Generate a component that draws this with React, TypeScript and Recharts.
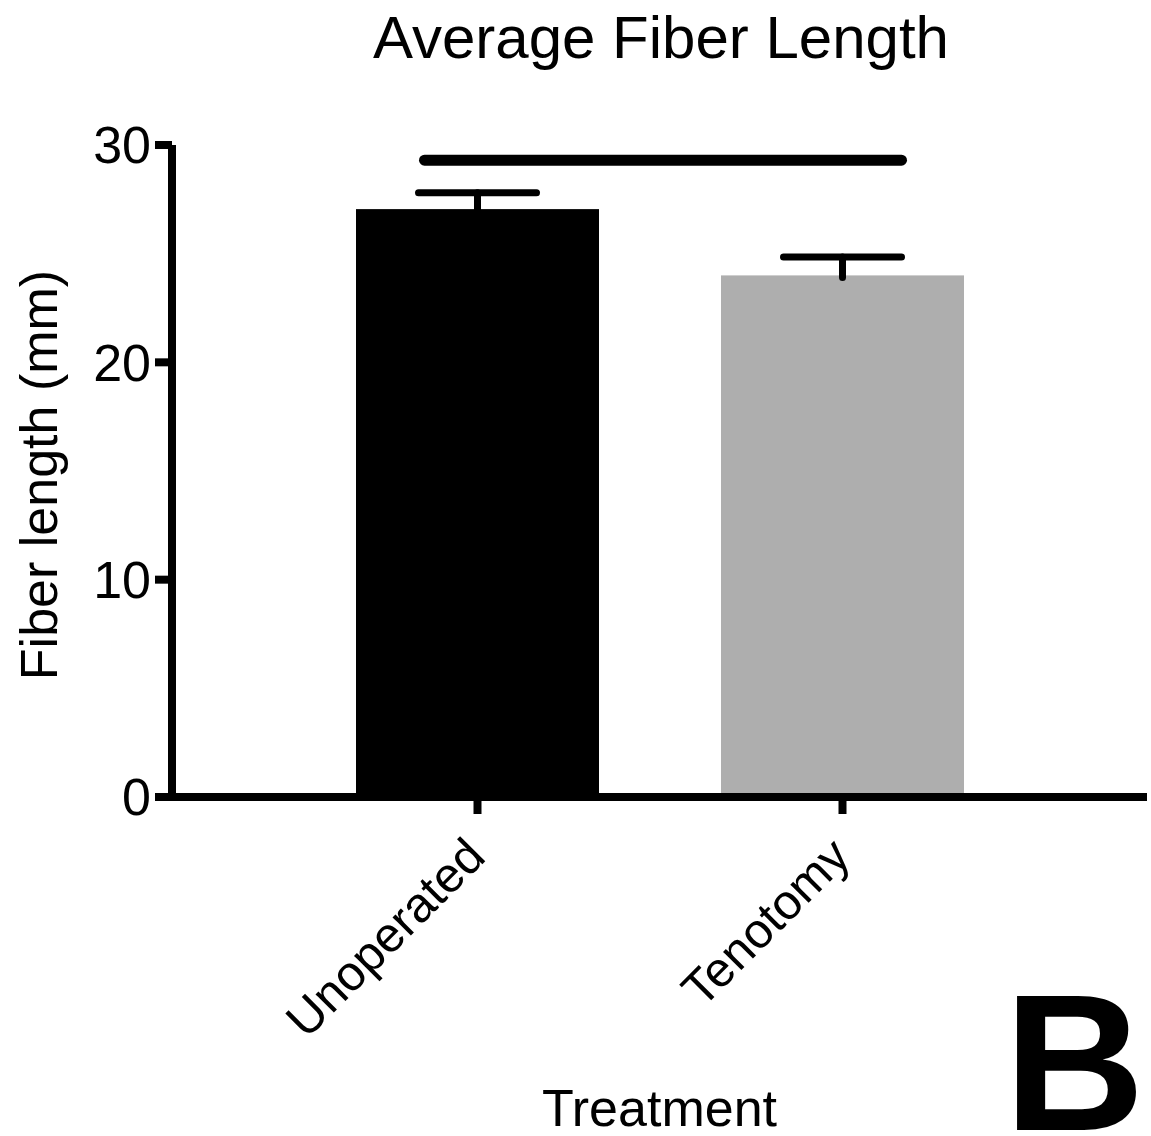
import React from "react";
import { BarChart, Bar, XAxis, YAxis, Cell, ReferenceLine } from "recharts";

const groups = ["Unoperated", "Tenotomy"];
const means = [27.05, 24.0];
const sems = [0.75, 0.85];
const barColors = ["#000000", "#aeaeae"];
const yTicks = [0, 10, 20, 30];
const sigLevel = 29.3;

const data = groups.map((g, i) => ({ name: g, mean: means[i], sem: sems[i] }));

const FONT = "'Liberation Sans', Arial, Helvetica, sans-serif";

// bar rect plus the upper half of the SEM whisker
const BarWithError = (props: any) => {
  const { x, y, width, height, fill, payload } = props;
  const pxPerUnit = height / payload.mean;
  const capY = y - payload.sem * pxPerUnit;
  const cx = x + width / 2;
  return (
    <g>
      <rect x={x} y={y} width={width} height={height} fill={fill} />
      <line x1={cx} y1={y + 2} x2={cx} y2={capY} stroke="#000" strokeWidth={7} strokeLinecap="round" />
      <line x1={cx - 59} y1={capY} x2={cx + 59} y2={capY} stroke="#000" strokeWidth={7} strokeLinecap="round" />
    </g>
  );
};

const XTick = (props: any) => {
  const { x, y, payload } = props;
  return (
    <g transform={`translate(${x + 10},${y + 43}) rotate(-45)`}>
      <text textAnchor="end" fontSize={49} fontFamily={FONT} fill="#000">
        {payload.value}
      </text>
    </g>
  );
};

const SigLine = (props: any) => {
  const { x1, y1, x2, y2 } = props;
  return (
    <line x1={x1 - 53} y1={y1} x2={x2 + 59} y2={y2} stroke="#000" strokeWidth={11} strokeLinecap="round" />
  );
};

export default function App() {
  return (
    <div style={{ position: "absolute", left: 0, top: 0, width: 1151, height: 1136, overflow: "hidden", background: "#fff" }}>
      <BarChart
        width={1151}
        height={1136}
        data={data}
        margin={{ top: 145, right: 4, left: 0, bottom: 0 }}
      >
        <XAxis
          dataKey="name"
          height={339}
          padding={{ left: 123, right: 122 }}
          axisLine={{ stroke: "#000", strokeWidth: 8 }}
          tickLine={{ stroke: "#000", strokeWidth: 8 }}
          tickSize={17}
          tickMargin={2}
          tick={<XTick />}
          interval={0}
          label={{
            value: "Treatment",
            position: "insideBottom",
            offset: 10,
            fontSize: 52,
            fontFamily: FONT,
            fill: "#000",
          }}
        />
        <YAxis
          width={172}
          domain={[0, 30]}
          ticks={yTicks}
          interval={0}
          axisLine={{ stroke: "#000", strokeWidth: 8 }}
          tickLine={{ stroke: "#000", strokeWidth: 8 }}
          tickSize={17}
          tickMargin={4}
          tick={{ fontSize: 52, fontFamily: FONT, fill: "#000" }}
        />
        <Bar dataKey="mean" barSize={243} shape={<BarWithError />} isAnimationActive={false}>
          {data.map((d, i) => (
            <Cell key={d.name} fill={barColors[i]} />
          ))}
        </Bar>
        <ReferenceLine
          segment={[
            { x: groups[0], y: sigLevel },
            { x: groups[1], y: sigLevel },
          ]}
          shape={<SigLine />}
        />
      </BarChart>
      <svg width={1151} height={1136} style={{ position: "absolute", left: 0, top: 0, pointerEvents: "none" }}>
        <text x={661} y={58} textAnchor="middle" fontSize={60} fontFamily={FONT} fill="#000">
          Average Fiber Length
        </text>
        <text
          transform="translate(57,475) rotate(-90)"
          textAnchor="middle"
          fontSize={52}
          fontFamily={FONT}
          fill="#000"
        >
          Fiber length (mm)
        </text>
        <text x={1004} y={1130} fontSize={195} fontWeight="bold" fontFamily={FONT} fill="#000">
          B
        </text>
      </svg>
    </div>
  );
}
